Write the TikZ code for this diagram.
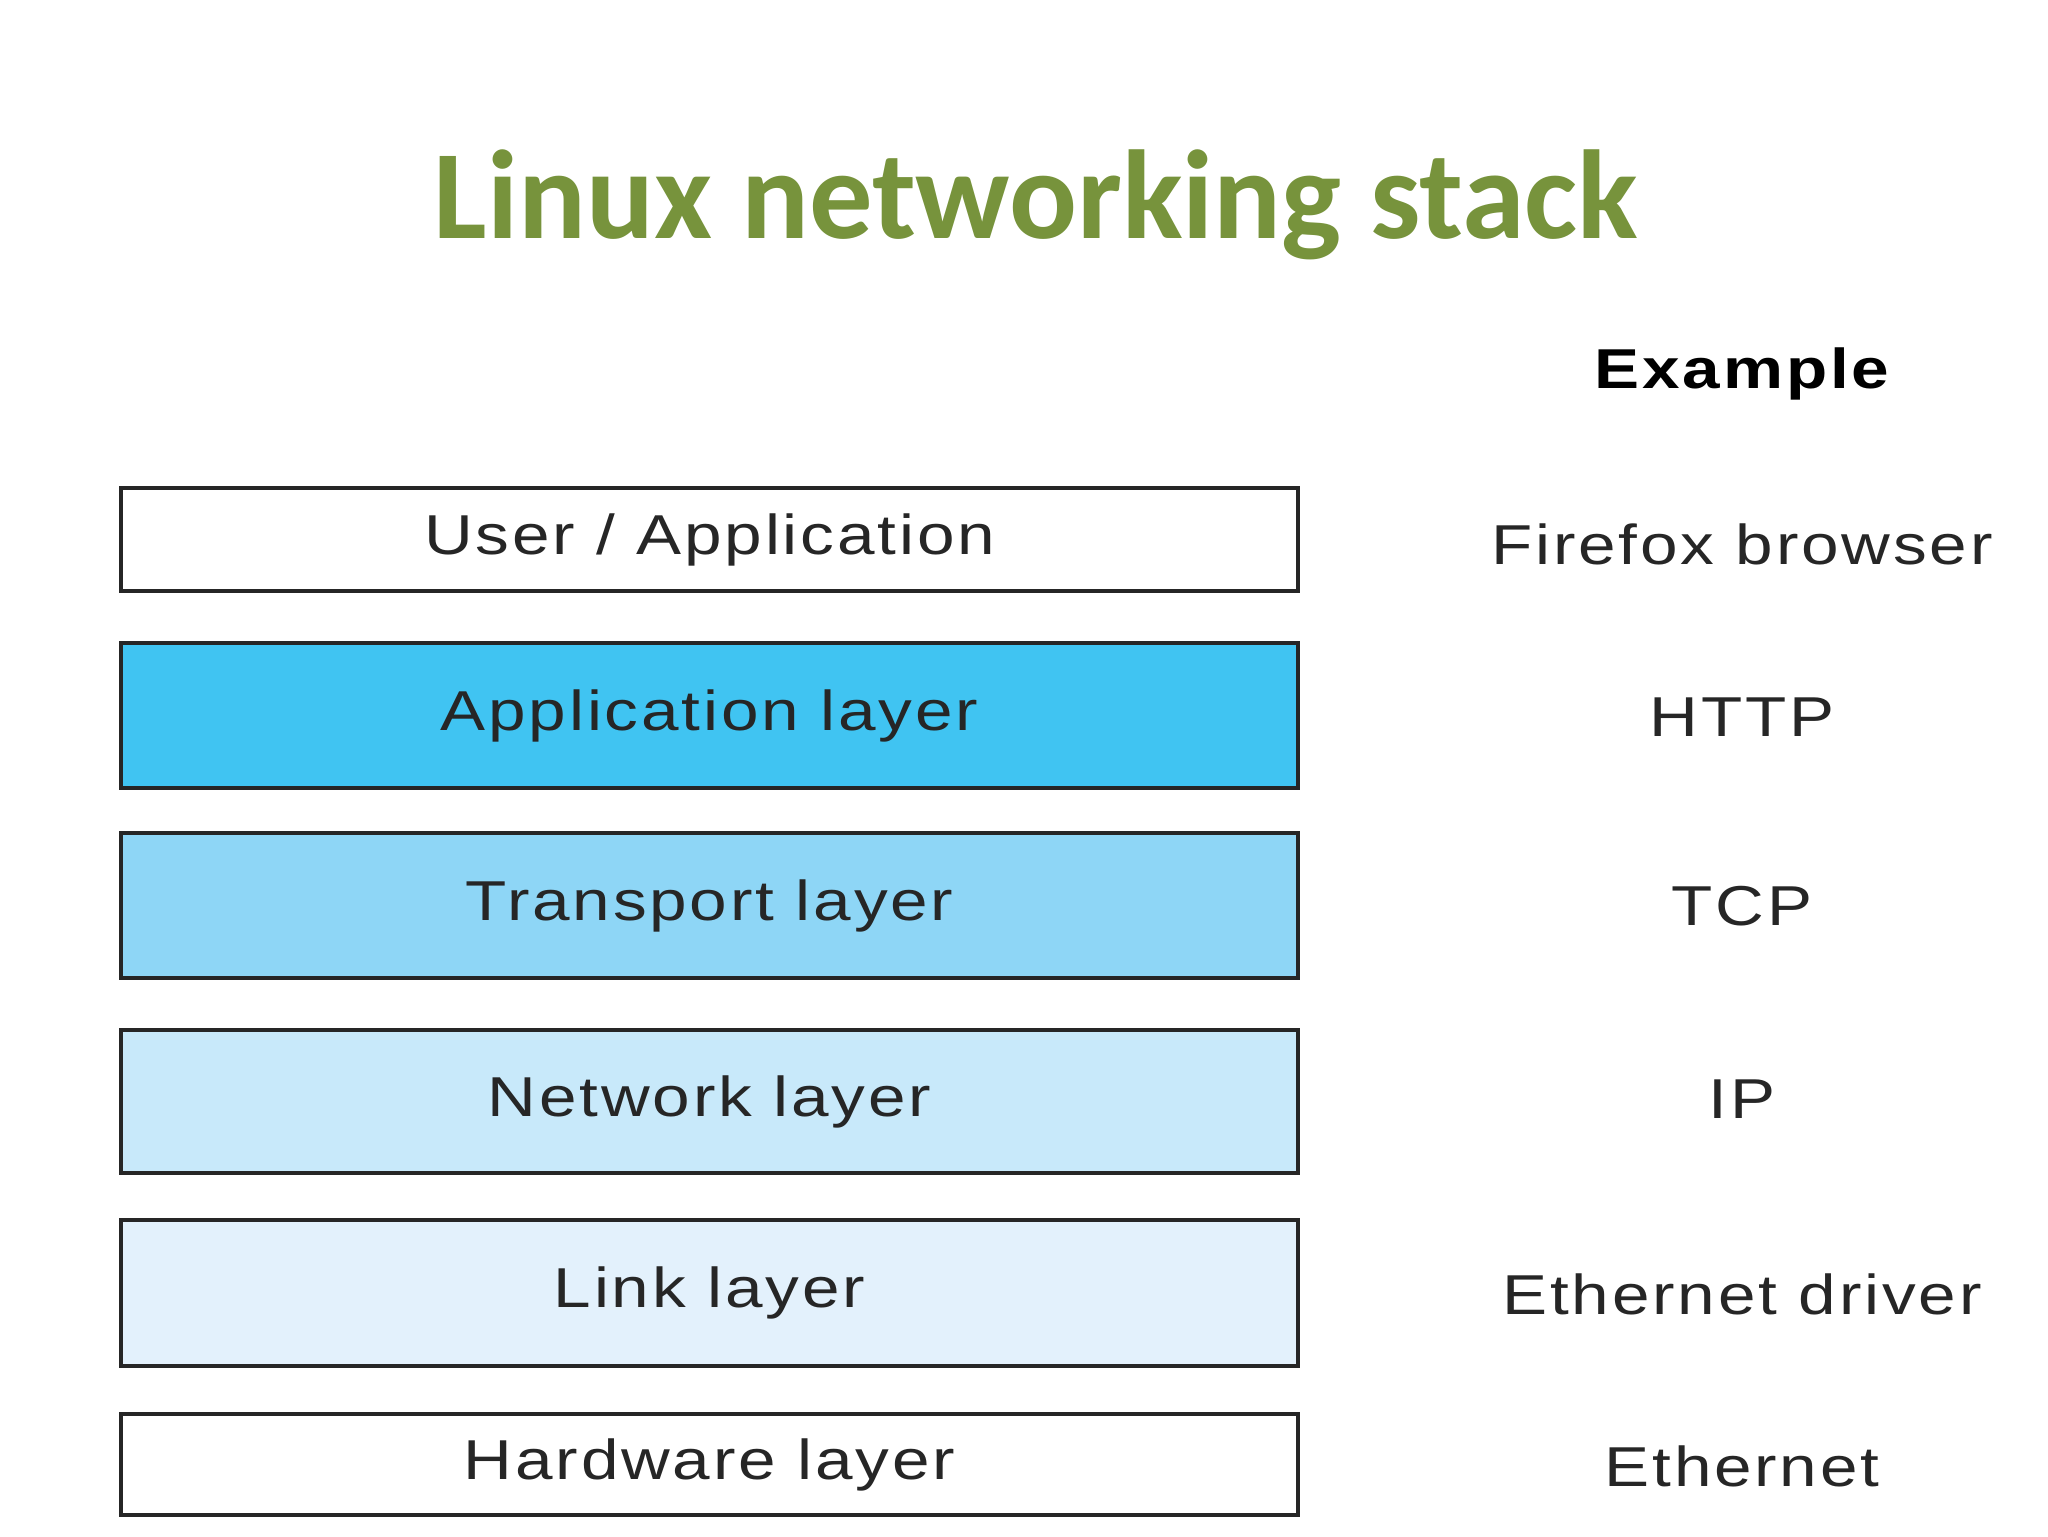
\documentclass[tikz,border=0pt]{standalone}
\usepackage{fontspec}
\setmainfont{Liberation Sans}
\newfontfamily\titlefont{Carlito}
\newfontfamily\stackfont[FakeStretch=1.2,LetterSpace=5]{Liberation Sans}
\definecolor{titlegreen}{HTML}{77933C}
\definecolor{appblue}{HTML}{40C4F2}
\definecolor{transblue}{HTML}{8ED6F6}
\definecolor{netblue}{HTML}{C8E9FA}
\definecolor{linkblue}{HTML}{E3F1FC}
\tikzset{
  layer/.style={draw=black!85,line width=1.2pt,minimum width=117.7mm,inner sep=0pt,
    font=\stackfont\fontsize{16}{19}\selectfont,text=black!85},
  example/.style={inner sep=0pt,font=\stackfont\fontsize{16}{19}\selectfont,text=black!85}
}
\begin{document}
\begin{tikzpicture}[x=0.1mm,y=-0.1mm]
  \useasboundingbox (0,0) rectangle (2048,1536) ;
  % title
  \node[anchor=base,text=titlegreen,font=\titlefont\bfseries\fontsize{36}{43}\selectfont] (title) at (1036,238) {Linux networking stack} ;
  \node[example,font=\stackfont\bfseries\fontsize{16}{19}\selectfont,text=black] (exhead) at (1742,374) {Example} ;
  % the stack
  \node[layer,minimum height=10.3mm,fill=white] (user) at (709.5,539.5) {User / Application} ;
  \node[layer,minimum height=14.5mm,fill=appblue] (app) at (709.5,715.5) {Application layer} ;
  \node[layer,minimum height=14.5mm,fill=transblue] (trans) at (709.5,905.5) {Transport layer} ;
  \node[layer,minimum height=14.3mm,fill=netblue] (net) at (709.5,1101.5) {Network layer} ;
  \node[layer,minimum height=14.6mm,fill=linkblue] (link) at (709.5,1293) {Link layer} ;
  \node[layer,minimum height=10.1mm,fill=white] (hw) at (709.5,1464.5) {Hardware layer} ;
  % examples
  \node[example] (exuser) at (1742,544) {Firefox browser} ;
  \node[example] (exapp) at (1742,717) {HTTP} ;
  \node[example] (extrans) at (1742,906) {TCP} ;
  \node[example] (exnet) at (1742,1099) {IP} ;
  \node[example] (exlink) at (1742,1294) {Ethernet driver} ;
  \node[example] (exhw) at (1742,1466) {Ethernet} ;
\end{tikzpicture}
\end{document}
